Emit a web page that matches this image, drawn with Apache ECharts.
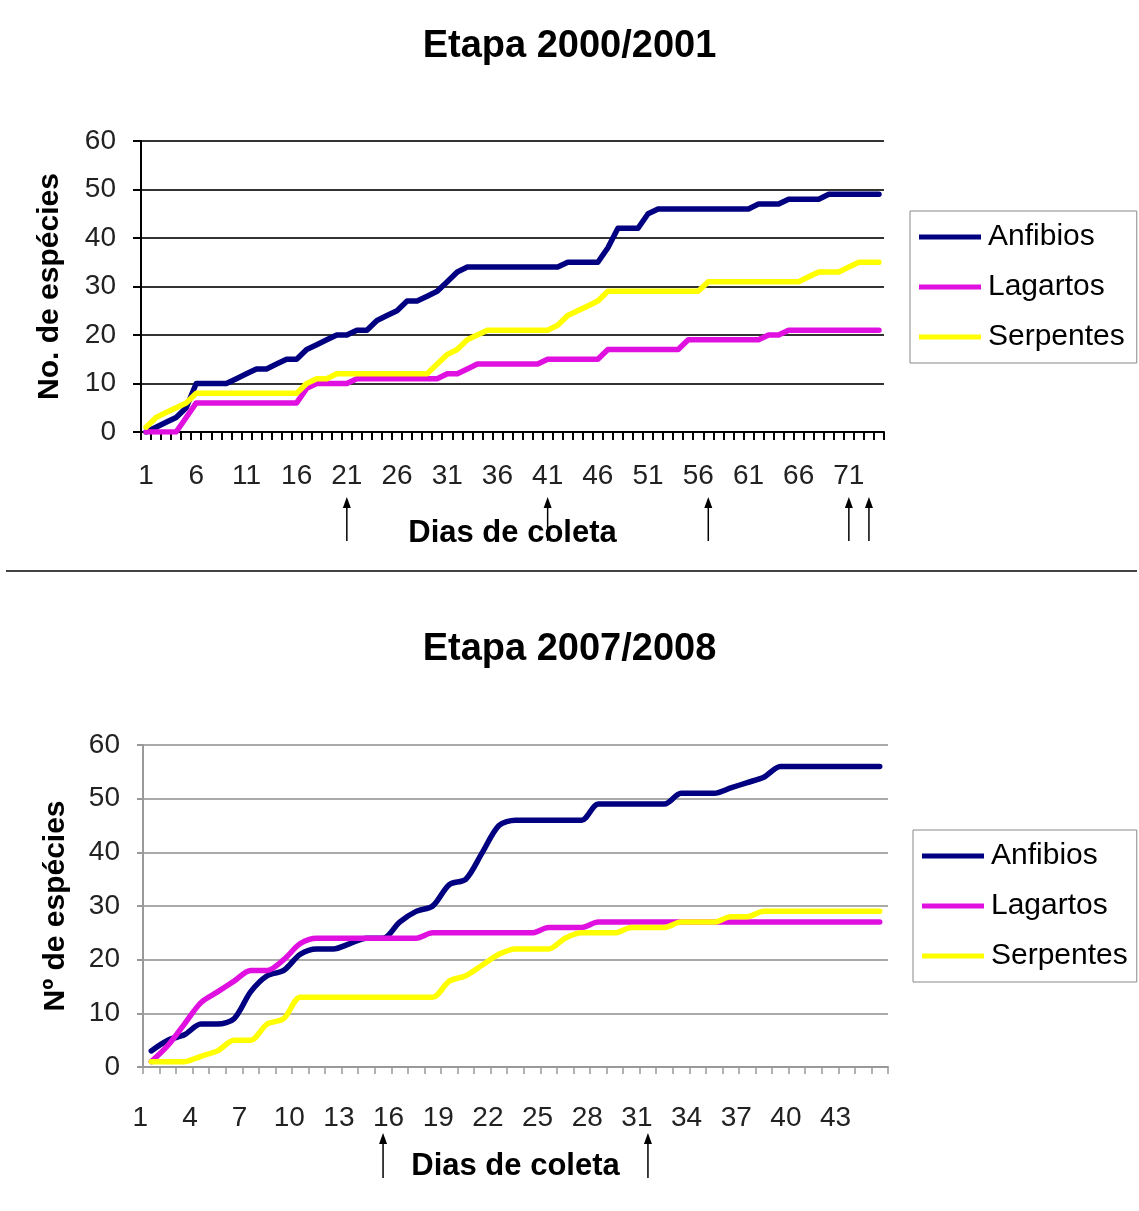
<!DOCTYPE html>
<html><head><meta charset="utf-8">
<script src="https://cdn.jsdelivr.net/npm/echarts@6/dist/echarts.min.js"></script>
<style>html,body{margin:0;padding:0;background:#fff}#c{width:1139px;height:1211px}</style>
</head><body><div id="c"></div>
<script>
// ---------- data ----------
const seriesNames = ['Anfibios', 'Lagartos', 'Serpentes'];
const seriesColors = ['#000080', '#e010e0', '#ffff00'];

const days1 = ['1','2','3','4','5','6','7','8','9','10','11','12','13','14','15','16','17','18','19','20',
  '21','22','23','24','25','26','27','28','29','30','31','32','33','34','35','36','37','38','39','40',
  '41','42','43','44','45','46','47','48','49','50','51','52','53','54','55','56','57','58','59','60',
  '61','62','63','64','65','66','67','68','69','70','71','72','73','74'];
const anfibios1 = [0,1,2,3,5,10,10,10,10,11,12,13,13,14,15,15,17,18,19,20,
  20,21,21,23,24,25,27,27,28,29,31,33,34,34,34,34,34,34,34,34,
  34,34,35,35,35,35,38,42,42,42,45,46,46,46,46,46,46,46,46,46,
  46,47,47,47,48,48,48,48,49,49,49,49,49,49];
const lagartos1 = [0,0,0,0,3,6,6,6,6,6,6,6,6,6,6,6,9,10,10,10,
  10,11,11,11,11,11,11,11,11,11,12,12,13,14,14,14,14,14,14,14,
  15,15,15,15,15,15,17,17,17,17,17,17,17,17,19,19,19,19,19,19,
  19,19,20,20,21,21,21,21,21,21,21,21,21,21];
const serpentes1 = [1,3,4,5,6,8,8,8,8,8,8,8,8,8,8,8,10,11,11,12,
  12,12,12,12,12,12,12,12,12,14,16,17,19,20,21,21,21,21,21,21,
  21,22,24,25,26,27,29,29,29,29,29,29,29,29,29,29,31,31,31,31,
  31,31,31,31,31,31,32,33,33,33,34,35,35,35];
const arrowDays1 = [21, 41, 57, 71, 73];

const days2 = ['1','2','3','4','5','6','7','8','9','10','11','12','13','14','15','16','17','18','19','20',
  '21','22','23','24','25','26','27','28','29','30','31','32','33','34','35','36','37','38','39','40',
  '41','42','43','44','45'];
const anfibios2 = [3,5,6,8,8,9,14,17,18,21,22,22,23,24,24,27,29,30,34,35,
  40,45,46,46,46,46,46,49,49,49,49,49,51,51,51,52,53,54,56,56,
  56,56,56,56,56];
const lagartos2 = [1,4,8,12,14,16,18,18,20,23,24,24,24,24,24,24,24,25,25,25,
  25,25,25,25,26,26,26,27,27,27,27,27,27,27,27,27,27,27,27,27,
  27,27,27,27,27];
const serpentes2 = [1,1,1,2,3,5,5,8,9,13,13,13,13,13,13,13,13,13,16,17,
  19,21,22,22,22,24,25,25,25,26,26,26,27,27,27,28,28,29,29,29,
  29,29,29,29,29];
const arrowDays2 = [15, 31];

const titles = ['Etapa 2000/2001', 'Etapa 2007/2008'];
const yNames = ['No. de espécies', 'Nº de espécies'];
const xName = 'Dias de coleta';

// ---------- chart ----------
const FONT = '"Liberation Sans", Arial, sans-serif';
const chart = echarts.init(document.getElementById('c'), null, {renderer: 'canvas'});

function mkSeries(name, data, idx, color, smooth) {
  return {
    name, type: 'line', data, xAxisIndex: idx, yAxisIndex: idx,
    symbol: 'none', smooth, animation: false,
    lineStyle: {color, width: 5.5, cap: 'round', join: 'round'},
    itemStyle: {color}
  };
}

const legendBase = {
  orient: 'vertical', icon: 'rect', itemWidth: 62, itemHeight: 5, itemGap: 20,
  textStyle: {fontFamily: FONT, fontSize: 30, color: '#000', padding: [0, 0, 0, 2]},
  borderColor: '#888', borderWidth: 1, data: seriesNames, selectedMode: false
};

const option = {
  backgroundColor: '#fff',
  animation: false,
  color: seriesColors,
  title: [
    {text: titles[0], left: 'center', top: 23, textStyle: {fontFamily: FONT, fontSize: 38, fontWeight: 'bold', color: '#000'}},
    {text: titles[1], left: 'center', top: 626, textStyle: {fontFamily: FONT, fontSize: 38, fontWeight: 'bold', color: '#000'}}
  ],
  legend: [
    Object.assign({}, legendBase, {left: 910, top: 211, padding: [11, 12, 11, 9]}),
    Object.assign({}, legendBase, {left: 913, top: 830, padding: [11, 9, 11, 9]})
  ],
  grid: [
    {left: 141, top: 141, width: 743, height: 291},
    {left: 143, top: 745, width: 745, height: 322}
  ],
  xAxis: [
    {
      type: 'category', gridIndex: 0, data: days1, boundaryGap: true,
      name: xName, nameLocation: 'middle', nameGap: 86,
      nameTextStyle: {fontFamily: FONT, fontSize: 31, fontWeight: 'bold', color: '#000'},
      axisLine: {lineStyle: {color: '#000', width: 2}},
      axisTick: {show: true, interval: 0, length: 8, lineStyle: {color: '#000', width: 2}},
      axisLabel: {interval: 4, margin: 30, fontFamily: FONT, fontSize: 28, color: '#222'},
      splitLine: {show: false}
    },
    {
      type: 'category', gridIndex: 1, data: days2, boundaryGap: true,
      name: xName, nameLocation: 'middle', nameGap: 84,
      nameTextStyle: {fontFamily: FONT, fontSize: 31, fontWeight: 'bold', color: '#000'},
      axisLine: {lineStyle: {color: '#999', width: 2}},
      axisTick: {show: true, interval: 0, length: 7, lineStyle: {color: '#999', width: 1.5}},
      axisLabel: {interval: 2, margin: 37, fontFamily: FONT, fontSize: 28, color: '#222', padding: [0, 22, 0, 0]},
      splitLine: {show: false}
    }
  ],
  yAxis: [
    {
      type: 'value', gridIndex: 0, min: 0, max: 60, interval: 10,
      name: yNames[0], nameLocation: 'middle', nameGap: 76,
      nameTextStyle: {fontFamily: FONT, fontSize: 30, fontWeight: 'bold', color: '#000'},
      axisLine: {show: true, lineStyle: {color: '#000', width: 2}},
      axisTick: {show: true, length: 8, lineStyle: {color: '#000', width: 2}},
      axisLabel: {margin: 25, fontFamily: FONT, fontSize: 28, color: '#222'},
      splitLine: {show: true, lineStyle: {color: '#333', width: 2}}
    },
    {
      type: 'value', gridIndex: 1, min: 0, max: 60, interval: 10,
      name: yNames[1], nameLocation: 'middle', nameGap: 72,
      nameTextStyle: {fontFamily: FONT, fontSize: 30, fontWeight: 'bold', color: '#000'},
      axisLine: {show: true, lineStyle: {color: '#999', width: 2}},
      axisTick: {show: true, length: 6, lineStyle: {color: '#999', width: 2}},
      axisLabel: {margin: 23, fontFamily: FONT, fontSize: 28, color: '#222'},
      splitLine: {show: true, lineStyle: {color: '#aaa', width: 2}}
    }
  ],
  series: [
    mkSeries(seriesNames[0], anfibios1, 0, seriesColors[0], false),
    mkSeries(seriesNames[1], lagartos1, 0, seriesColors[1], false),
    mkSeries(seriesNames[2], serpentes1, 0, seriesColors[2], false),
    mkSeries(seriesNames[0], anfibios2, 1, seriesColors[0], 0.3),
    mkSeries(seriesNames[1], lagartos2, 1, seriesColors[1], 0.3),
    mkSeries(seriesNames[2], serpentes2, 1, seriesColors[2], 0.3)
  ]
};
chart.setOption(option);

function arrows(days, xAxisIndex, yTop, yBottom) {
  return days.map(d => {
    const x = chart.convertToPixel({xAxisIndex: xAxisIndex}, d - 1);
    return {
      type: 'group', silent: true,
      children: [
        {type: 'line', shape: {x1: x, y1: yTop + 8, x2: x, y2: yBottom}, style: {stroke: '#000', lineWidth: 1.5}},
        {type: 'polygon', shape: {points: [[x, yTop], [x - 4, yTop + 11], [x + 4, yTop + 11]]}, style: {fill: '#000'}}
      ]
    };
  });
}

chart.setOption({
  graphic: [
    {type: 'line', shape: {x1: 6, y1: 571, x2: 1137, y2: 571}, style: {stroke: '#444', lineWidth: 2}, silent: true}
  ].concat(arrows(arrowDays1, 0, 497, 541), arrows(arrowDays2, 1, 1133, 1178))
});
</script>
</body></html>
